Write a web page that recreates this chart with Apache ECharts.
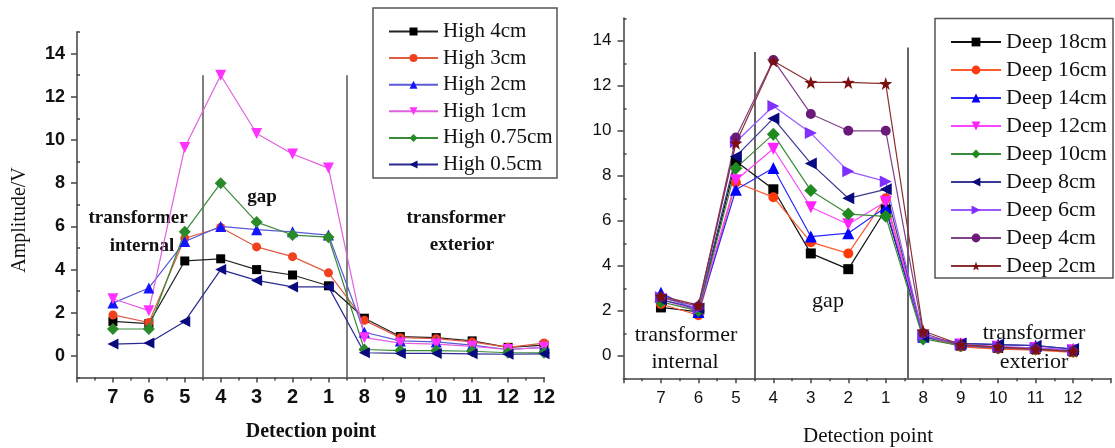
<!DOCTYPE html>
<html>
<head>
<meta charset="utf-8">
<script src="https://cdn.jsdelivr.net/npm/echarts@6/dist/echarts.min.js"></script>
<style>html,body{margin:0;padding:0;background:#fff;}#c{width:1115px;height:448px;}</style>
</head>
<body>
<div id="c"></div>
<script>
// ---- data ----
var leftLabels = ['7','6','5','4','3','2','1','8','9','10','11','12','12'];
var rightLabels = ['7','6','5','4','3','2','1','8','9','10','11','12'];

var leftNames = ['High 4cm','High 3cm','High 2cm','High 1cm','High 0.75cm','High 0.5cm'];
var high4   = [1.6,1.5,4.4,4.5,4.0,3.75,3.25,1.75,0.9,0.85,0.7,0.4,0.5];
var high3   = [1.9,1.55,5.45,5.95,5.05,4.6,3.85,1.65,0.85,0.8,0.65,0.4,0.6];
var high2   = [2.45,3.15,5.3,6.0,5.85,5.75,5.6,1.1,0.7,0.65,0.5,0.3,0.4];
var high1   = [2.65,2.1,9.65,13.0,10.3,9.35,8.7,0.85,0.6,0.55,0.45,0.3,0.4];
var high075 = [1.25,1.25,5.75,8.0,6.2,5.6,5.5,0.3,0.25,0.25,0.22,0.15,0.15];
var high05  = [0.55,0.6,1.6,4.0,3.5,3.2,3.2,0.15,0.12,0.12,0.1,0.08,0.1];

var rightNames = ['Deep 18cm','Deep 16cm','Deep 14cm','Deep 12cm','Deep 10cm','Deep 8cm','Deep 6cm','Deep 4cm','Deep 2cm'];
var deep18 = [2.15,1.95,8.65,7.4,4.55,3.85,6.5,0.85,0.45,0.35,0.3,0.2];
var deep16 = [2.3,1.8,7.7,7.05,5.05,4.55,7.0,0.9,0.4,0.3,0.25,0.15];
var deep14 = [2.8,1.95,7.38,8.35,5.3,5.45,6.6,0.85,0.55,0.5,0.45,0.3];
var deep12 = [2.5,2.0,7.8,9.2,6.6,5.85,6.85,0.9,0.5,0.4,0.35,0.25];
var deep10 = [2.4,2.0,8.34,9.85,7.35,6.3,6.2,0.75,0.45,0.35,0.3,0.2];
var deep8  = [2.5,2.1,8.86,10.55,8.55,7.0,7.4,0.85,0.55,0.5,0.45,0.3];
var deep6  = [2.6,2.1,9.5,11.1,9.9,8.2,7.75,0.9,0.5,0.4,0.35,0.25];
var deep4  = [2.6,2.2,9.7,13.15,10.75,10.0,10.0,1.0,0.45,0.35,0.3,0.2];
var deep2  = [2.65,2.25,9.45,13.1,12.15,12.15,12.1,1.1,0.5,0.4,0.3,0.2];

var yMajor = [0,2,4,6,8,10,12,14];
var yMinor = [-1,1,3,5,7,9,11,13,15];

// ---- styles ----
var star = 'path://M0,-10 L2.35,-3.24 9.51,-3.09 3.8,1.24 5.88,8.09 0,4 -5.88,8.09 -3.8,1.24 -9.51,-3.09 -2.35,-3.24Z';
var leftSty = [
  {c:'#000000', l:'#222222', s:'rect', r:0, z:9},
  {c:'#f0401e', l:'#e05a40', s:'circle', r:0, z:9},
  {c:'#1414ff', l:'#5a5ad8', s:'triangle', r:0, z:10},
  {c:'#ff33ff', l:'#e060e0', s:'triangle', r:180, z:10},
  {c:'#2a8a2a', l:'#3a8a3a', s:'diamond', r:0, z:10},
  {c:'#0a0a80', l:'#2a2a90', s:'triangle', r:90, z:10}
];
var rightSty = [
  {c:'#000000', l:'#111111', s:'rect', r:0, z:10},
  {c:'#ff3a0a', l:'#ff5a30', s:'circle', r:0, z:10},
  {c:'#0000ff', l:'#2a2aff', s:'triangle', r:0, z:10},
  {c:'#ff22ff', l:'#ff44ff', s:'triangle', r:180, z:10},
  {c:'#1f8a1f', l:'#3a8a3a', s:'diamond', r:0, z:10},
  {c:'#0a0a80', l:'#3a3a90', s:'triangle', r:90, z:10},
  {c:'#7f2fff', l:'#9a5aff', s:'triangle', r:-90, z:10},
  {c:'#6a1a78', l:'#80408a', s:'circle', r:0, z:10},
  {c:'#7a1010', l:'#8a3030', s:'path', r:0, z:10}
];

function pts(arr){ return arr.map(function(v,i){ return [i+1, v]; }); }

var leftData = [high4, high3, high2, high1, high075, high05];
var rightData = [deep18, deep16, deep14, deep12, deep10, deep8, deep6, deep4, deep2];

var series = [];
leftData.forEach(function(d,i){
  var st = leftSty[i];
  var sym = st.s;
  series.push({
    name: leftNames[i], type:'line', xAxisIndex:0, yAxisIndex:0,
    data: pts(d), symbol: sym, symbolRotate: st.r,
    symbolSize: sym==='diamond' ? 12 : (sym==='triangle' ? 11 : 9),
    itemStyle:{color:st.c}, lineStyle:{color:st.l, width:1.2},
    showSymbol:true, animation:false, z:st.z
  });
});
rightData.forEach(function(d,i){
  var st = rightSty[i];
  var sym = st.s==='path' ? star : st.s;
  series.push({
    name: rightNames[i], type:'line', xAxisIndex:1, yAxisIndex:1,
    data: pts(d), symbol: sym, symbolRotate: st.r,
    symbolSize: st.s==='diamond' ? 13 : (st.s==='triangle' ? 12 : (st.s==='path' ? 13 : 10)),
    itemStyle:{color:st.c}, lineStyle:{color:st.l, width:1.2},
    showSymbol:true, animation:false, z:st.z
  });
});

// vertical separator lines
series[0].markLine = {silent:true, symbol:'none', animation:false, label:{show:false},
  lineStyle:{color:'#555', width:1.5, type:'solid'},
  data:[[{coord:[3.5,-1]},{coord:[3.5,13]}],[{coord:[7.5,-1]},{coord:[7.5,13]}]]};
series[6].markLine = {silent:true, symbol:'none', animation:false, label:{show:false},
  lineStyle:{color:'#333', width:1.5, type:'solid'},
  data:[[{coord:[3.5,-1]},{coord:[3.5,13.5]}],[{coord:[7.6,-1]},{coord:[7.6,13.7]}]]};

var axisCol = '#707070';

function xAx(grid, labels, fontSize, bold, margin){
  return {type:'value', gridIndex:grid, min:0, max:13, interval:1,
    axisLine:{show:true, onZero:false, lineStyle:{color:axisCol, width:2}},
    axisTick:{show:true, inside:false, length:5, lineStyle:{color:'#444', width:1.5}},
    minorTick:{show:true, splitNumber:2, length:3, lineStyle:{color:'#444', width:1.5}},
    splitLine:{show:false}, minorSplitLine:{show:false},
    axisLabel:{margin:margin, fontFamily:'Liberation Sans', fontSize:fontSize, fontWeight:bold?'bold':'normal', color:'#111',
      showMinLabel:true, showMaxLabel:true,
      formatter:function(v){ var k=Math.round(v); if (Math.abs(v-k)>1e-6) return ''; return labels[k-1] || ''; }}
  };
}
function yAx(grid, fontSize, bold, margin){
  return {type:'value', gridIndex:grid, min:-1, max:15, interval:1,
    axisLine:{show:true, onZero:false, lineStyle:{color:axisCol, width:2}},
    axisTick:{show:true, inside:false, length:6, customValues:yMajor, lineStyle:{color:'#444', width:1.5}},
    splitLine:{show:false},
    axisLabel:{margin:margin, customValues:yMajor, fontFamily:'Liberation Sans', fontSize:fontSize, fontWeight:bold?'bold':'normal', color:'#111',
      formatter:function(v){ return (v>=0 && v<=14 && v%2===0) ? String(v) : ''; }}
  };
}
function yMinorAx(grid){
  return {type:'value', gridIndex:grid, min:-1, max:15, interval:1,
    axisLine:{show:false}, splitLine:{show:false},
    axisTick:{show:true, inside:false, length:3, customValues:yMinor, lineStyle:{color:'#444', width:1.5}},
    axisLabel:{show:false}
  };
}

var serifF = 'Liberation Serif';

var option = {
  backgroundColor:'#ffffff',
  animation:false,
  grid:[
    {left:77, top:32, width:467, height:345.6, containLabel:false},
    {left:623.5, top:18.3, width:487, height:360, containLabel:false}
  ],
  xAxis:[ xAx(0, leftLabels, 20, true, 10), xAx(1, rightLabels, 17, false, 12) ],
  yAxis:[ yAx(0, 18, true, 12), yAx(1, 17, false, 12), yMinorAx(0), yMinorAx(1) ],
  legend:[
    {data:leftNames, orient:'vertical', left:388, top:21, itemWidth:49, itemHeight:10, itemGap:5.6,
      textStyle:{fontFamily:serifF, fontSize:21, lineHeight:21, color:'#111'}, padding:0, selectedMode:false},
    {data:rightNames, orient:'vertical', left:950, top:31, itemWidth:50, itemHeight:11, itemGap:6,
      textStyle:{fontFamily:serifF, fontSize:22, lineHeight:22, color:'#111'}, padding:0, selectedMode:false}
  ],
  graphic:[
    {type:'rect', shape:{x:373, y:8, width:184, height:170}, style:{fill:'none', stroke:'#555', lineWidth:1.5}, silent:true},
    {type:'rect', shape:{x:935, y:18.5, width:178, height:259.5}, style:{fill:'none', stroke:'#555', lineWidth:1.5}, silent:true},
    // left annotations
    {type:'text', x:138, y:218, style:{text:'transformer', font:'bold 19px "Liberation Serif"', fill:'#111', align:'center', verticalAlign:'middle'}},
    {type:'text', x:142, y:246, style:{text:'internal', font:'bold 19px "Liberation Serif"', fill:'#111', align:'center', verticalAlign:'middle'}},
    {type:'text', x:262, y:197, style:{text:'gap', font:'bold 19px "Liberation Serif"', fill:'#111', align:'center', verticalAlign:'middle'}},
    {type:'text', x:456, y:218, style:{text:'transformer', font:'bold 19px "Liberation Serif"', fill:'#111', align:'center', verticalAlign:'middle'}},
    {type:'text', x:462, y:245, style:{text:'exterior', font:'bold 19px "Liberation Serif"', fill:'#111', align:'center', verticalAlign:'middle'}},
    // right annotations
    {type:'text', x:686, y:335, style:{text:'transformer', font:'22px "Liberation Serif"', fill:'#111', align:'center', verticalAlign:'middle'}},
    {type:'text', x:685, y:362, style:{text:'internal', font:'22px "Liberation Serif"', fill:'#111', align:'center', verticalAlign:'middle'}},
    {type:'text', x:828, y:301, style:{text:'gap', font:'22px "Liberation Serif"', fill:'#111', align:'center', verticalAlign:'middle'}},
    {type:'text', x:1034, y:333, style:{text:'transformer', font:'22px "Liberation Serif"', fill:'#111', align:'center', verticalAlign:'middle'}},
    {type:'text', x:1034, y:362, style:{text:'exterior', font:'22px "Liberation Serif"', fill:'#111', align:'center', verticalAlign:'middle'}},
    // axis titles
    {type:'text', x:20, y:220, rotation:Math.PI/2, style:{text:'Amplitude/V', font:'20px "Liberation Serif"', fill:'#111', align:'center', verticalAlign:'middle'}},
    {type:'text', x:311, y:432, style:{text:'Detection point', font:'bold 20px "Liberation Serif"', fill:'#111', align:'center', verticalAlign:'middle'}},
    {type:'text', x:868, y:436, style:{text:'Detection point', font:'21px "Liberation Serif"', fill:'#111', align:'center', verticalAlign:'middle'}}
  ],
  series: series
};

var chart = echarts.init(document.getElementById('c'), null, {renderer:'canvas'});
chart.setOption(option);
</script>
</body>
</html>
